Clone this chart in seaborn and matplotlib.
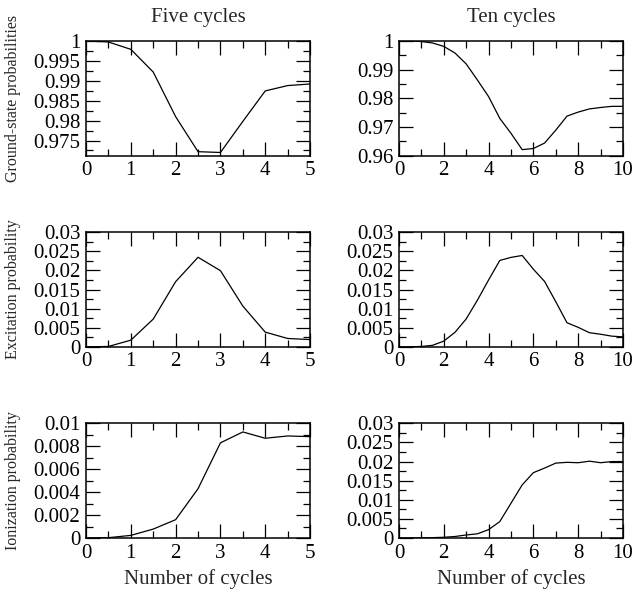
import numpy as np
import pandas as pd
import matplotlib
matplotlib.use("Agg")
import matplotlib.pyplot as plt
from matplotlib.ticker import MultipleLocator, FuncFormatter
import seaborn as sns

# x grids (number of cycles)
x_five = [0, 0.5, 1, 1.5, 2, 2.5, 3, 3.5, 4, 4.5, 5]
x_ten = [0, 0.5, 1, 1.5, 2, 2.5, 3, 3.5, 4, 4.5, 5, 5.5, 6, 6.5, 7, 7.5, 8, 8.5, 9, 9.5, 10]

# five-cycle pulse
ground_five = [1.0, 0.99975, 0.9979, 0.9922, 0.9810, 0.9722, 0.9720, 0.9798, 0.98746, 0.9888, 0.9892]
excit_five = [0.0, 0.0001, 0.00175, 0.00726, 0.01705, 0.02343, 0.01993, 0.01066, 0.00385, 0.00219, 0.0019]
ioniz_five = [0.0, 0.00003, 0.00023, 0.00078, 0.0016, 0.0043, 0.0083, 0.00925, 0.0087, 0.0089, 0.00884]

# ten-cycle pulse
ground_ten = [1.0, 1.0, 0.9998, 0.9993, 0.9981, 0.9958, 0.9920, 0.9864, 0.9806, 0.9730, 0.9678,
              0.9621, 0.9625, 0.9644, 0.9689, 0.9738, 0.9752, 0.9763, 0.9768, 0.9772, 0.9772]
excit_ten = [0.0, 0.0, 0.0001, 0.0004, 0.0015, 0.0038, 0.0073, 0.0122, 0.0175, 0.0226, 0.0234,
             0.0239, 0.0203, 0.0171, 0.0118, 0.0063, 0.0051, 0.0037, 0.0033, 0.0028, 0.0026]
ioniz_ten = [0.0, 0.0, 0.00005, 0.0001, 0.0002, 0.0004, 0.0008, 0.0011, 0.0022, 0.0043, 0.0091,
             0.0139, 0.0171, 0.0183, 0.0196, 0.0198, 0.0197, 0.0201, 0.0197, 0.0200, 0.0200]

col_titles = ['Five cycles', 'Ten cycles']
row_labels = ['Ground-state probabilities', 'Excitation probability', 'Ionization probability']

sns.set_style('ticks')
plt.rcParams['font.family'] = ['Liberation Serif', 'DejaVu Serif']

fig, axes = plt.subplots(3, 2, figsize=(6.33, 5.93), dpi=100)
plt.subplots_adjust(left=0.1359, right=0.9842, top=0.9309, bottom=0.0927,
                    wspace=0.397, hspace=0.667)

panels = [
    [(x_five, ground_five), (x_ten, ground_ten)],
    [(x_five, excit_five), (x_ten, excit_ten)],
    [(x_five, ioniz_five), (x_ten, ioniz_ten)],
]

# (ylim, major, minor) per panel
y_setup = [
    [((0.9712, 1.0), 0.005, 0.0025), ((0.96, 1.0), 0.01, 0.005)],
    [((0.0, 0.03), 0.005, 0.0025), ((0.0, 0.03), 0.005, 0.0025)],
    [((0.0, 0.01), 0.002, 0.001), ((0.0, 0.03), 0.005, 0.0025)],
]

fmt = FuncFormatter(lambda v, p: f'{round(v, 6):g}')

for r in range(3):
    for c in range(2):
        ax = axes[r, c]
        xs, ys = panels[r][c]
        df = pd.DataFrame({'x': xs, 'y': ys})
        sns.lineplot(data=df, x='x', y='y', ax=ax, color='black', linewidth=0.9)
        xmax = 5 if c == 0 else 10
        ax.set_xlim(0, xmax)
        ax.xaxis.set_major_locator(MultipleLocator(1 if c == 0 else 2))
        ax.xaxis.set_minor_locator(MultipleLocator(0.5 if c == 0 else 1))
        ylim, major, minor = y_setup[r][c]
        ax.set_ylim(*ylim)
        ax.yaxis.set_major_locator(MultipleLocator(major))
        ax.yaxis.set_minor_locator(MultipleLocator(minor))
        ax.xaxis.set_major_formatter(fmt)
        ax.yaxis.set_major_formatter(fmt)
        ax.tick_params(which='both', direction='in', top=True, right=True,
                       labelsize=15, width=0.9, colors='black', pad=4)
        ax.tick_params(which='major', length=10)
        ax.tick_params(which='minor', length=5)
        for s in ax.spines.values():
            s.set_visible(True)
            s.set_linewidth(1.1)
            s.set_color('black')
        if c == 0:
            ax.set_ylabel(row_labels[r], fontsize=11.5)
            ax.yaxis.set_label_coords(-0.29, 0.5)
        else:
            ax.set_ylabel('')
        if r == 0:
            ax.set_title(col_titles[c], fontsize=15, pad=14)
        if r == 2:
            ax.set_xlabel('Number of cycles', fontsize=15, labelpad=5)
        else:
            ax.set_xlabel('')

fig.savefig('out.png', dpi=100)
